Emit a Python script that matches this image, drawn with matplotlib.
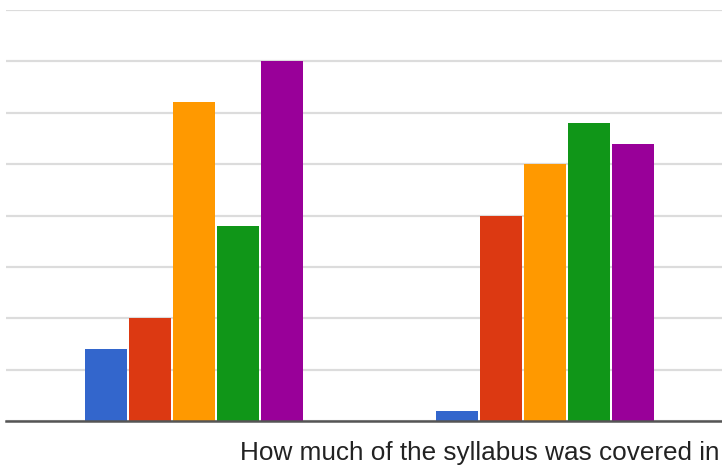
import matplotlib
matplotlib.use("Agg")
import matplotlib.pyplot as plt
import numpy as np

groups = ["Group 1", "Group 2"]
series_names = ["Series 1", "Series 2", "Series 3", "Series 4", "Series 5"]
series_values = [
    [7, 1],
    [10, 20],
    [31, 25],
    [19, 29],
    [35, 27],
]
colors = ["#3366cc", "#dc3912", "#ff9900", "#109618", "#990099"]
label_text = "How much of the syllabus was covered in"

W, H = 722, 472
fig = plt.figure(figsize=(W / 100, H / 100), dpi=100)
left_px, right_px, top_px, base_px = 6, 722, 10, 421
ax = fig.add_axes([left_px / W, 1 - base_px / H, (right_px - left_px) / W, (base_px - top_px) / H])

spacing_px = 351.0
c0_px = 194.0
xlo = -(c0_px - left_px) / spacing_px
xhi = (right_px - c0_px) / spacing_px
ax.set_xlim(xlo, xhi)
ax.set_ylim(0, 40)

bw = 42 / spacing_px
step = 44 / spacing_px
x = np.arange(len(groups))
for i, (vals, col) in enumerate(zip(series_values, colors)):
    ax.bar(x + (i - 2) * step, vals, width=bw, color=col, zorder=3, linewidth=0)

ax.set_yticks(np.arange(0, 41, 5))
ax.yaxis.grid(True, color="#dcdcdc", linewidth=1.6, zorder=0)
ax.tick_params(left=False, bottom=False, labelleft=False, labelbottom=False)
for s in ["top", "right", "left"]:
    ax.spines[s].set_visible(False)
ax.spines["bottom"].set_color("#555555")
ax.spines["bottom"].set_linewidth(1.8)
ax.spines["bottom"].set_zorder(4)

fig.text(240 / W, 1 - 460 / H, label_text, ha="left", va="baseline",
         fontsize=18.8, color="#222222", family="Liberation Sans")

fig.savefig("out.png", dpi=100)
